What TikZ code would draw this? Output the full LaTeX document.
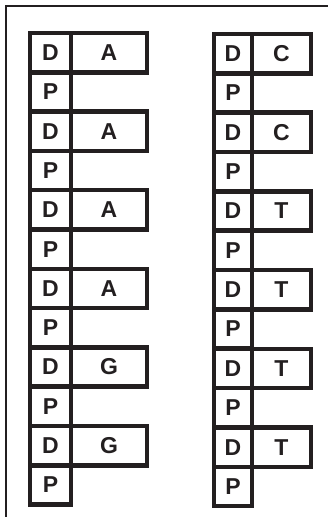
\documentclass[tikz,border=0pt]{standalone}
\usepackage{fontspec}
\setmainfont{Liberation Sans}
\definecolor{ink}{HTML}{231F20}
\begin{document}
\begin{tikzpicture}[x=1pt,y=-1pt,
  cell/.style={draw=ink, line width=4.5pt, inner sep=0pt, outer sep=0pt, anchor=north west,
    minimum height=39.3pt, text=ink, font=\fontsize{23}{23}\selectfont\bfseries}]
\useasboundingbox (0,0) rectangle (328,517);
% frame
\draw[ink, line width=2.2pt] (328,6) -- (6,6) -- (6,517);
% left strand
\foreach \lab [count=\i] in {A,A,A,A,G,G} {
  \node[cell, minimum width=41pt] (ld\i) at (30,{33+(\i-1)*78.6}) {D};
  \node[cell, minimum width=76pt] (lb\i) at (ld\i.north east) {\lab};
  \node[cell, minimum width=41pt] (lp\i) at (ld\i.south west) {P};
}
% right strand
\foreach \lab [count=\i] in {C,C,T,T,T,T} {
  \node[cell, minimum width=38pt] (rd\i) at (214,{34+(\i-1)*78.7}) {D};
  \node[cell, minimum width=59pt] (rb\i) at (rd\i.north east) {\lab};
  \node[cell, minimum width=38pt] (rp\i) at (rd\i.south west) {P};
}
\end{tikzpicture}
\end{document}
